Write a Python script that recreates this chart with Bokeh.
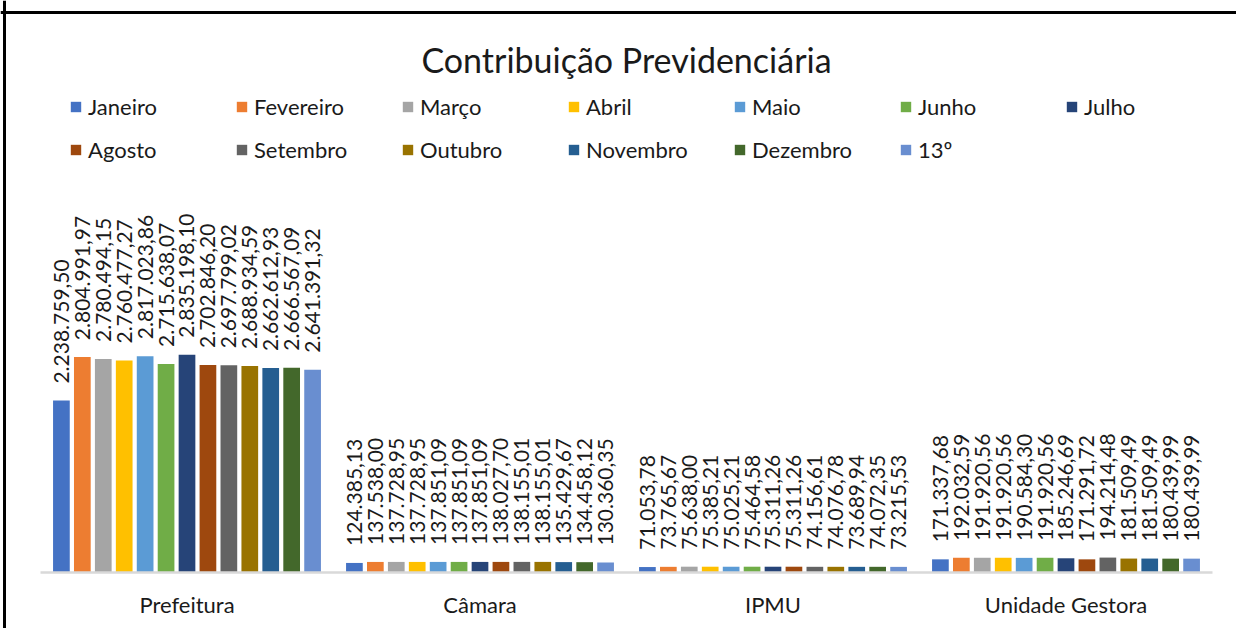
import numpy as np
from bokeh.plotting import figure
from bokeh.models import (ColumnDataSource, Range1d, LabelSet, Legend, LegendItem, Label, Span)
from bokeh.transform import dodge
from bokeh.core.properties import value
from bokeh.embed import file_html
from bokeh.resources import INLINE

categories = ["Prefeitura", "Câmara", "IPMU", "Unidade Gestora"]
months = ["Janeiro", "Fevereiro", "Março", "Abril", "Maio", "Junho", "Julho",
          "Agosto", "Setembro", "Outubro", "Novembro", "Dezembro", "13º"]
colors = ["#4472C4", "#ED7D31", "#A5A5A5", "#FFC000", "#5B9BD5", "#70AD47", "#264478",
          "#9E480E", "#636363", "#997300", "#255E91", "#43682B", "#698ED0"]

prefeitura = [2238759.50, 2804991.97, 2780494.15, 2760477.27, 2817023.86, 2715638.07, 2835198.10,
              2702846.20, 2697799.02, 2688934.59, 2662612.93, 2666567.09, 2641391.32]
camara = [124385.13, 137538.00, 137728.95, 137728.95, 137851.09, 137851.09, 137851.09,
          138027.70, 138155.01, 138155.01, 135429.67, 134458.12, 130360.35]
ipmu = [71053.78, 73765.67, 75638.00, 75385.21, 75025.21, 75464.58, 75311.26,
        75311.26, 74156.61, 74076.78, 73689.94, 74072.35, 73215.53]
unidade_gestora = [171337.68, 192032.59, 191920.56, 191920.56, 190584.30, 191920.56, 185246.69,
                   171291.72, 194214.48, 181509.49, 181509.49, 180439.99, 180439.99]


def fmt(v):
    s = f"{v:,.2f}"
    return s.replace(",", "X").replace(".", ",").replace("X", ".")


data = {"cat": categories, "x": [i + 0.5 for i in range(len(categories))],
        "zero": [0.0] * len(categories)}
for i, m in enumerate(months):
    vals = [prefeitura[i], camara[i], ipmu[i], unidade_gestora[i]]
    data[f"v{i}"] = vals
    data[f"t{i}"] = [fmt(v) for v in vals]
src = ColumnDataSource(data)

FONT = "Lato"
TXT = "#1a1a1a"
W, H = 1236, 628
CAT_PX = 293.0      # pixel width of one category
LEFT_PX = 40.0      # plot area left edge
BASE_PX = 56.0      # baseline distance from bottom edge
SCALE = 217.7 / 2835198.10  # px per unit

x_range = Range1d(-LEFT_PX / CAT_PX, (W - LEFT_PX) / CAT_PX)
y_range = Range1d(-BASE_PX / SCALE, (H - BASE_PX) / SCALE)

p = figure(x_range=x_range, y_range=y_range, width=W, height=H,
           output_backend="svg", toolbar_location=None, title=None,
           min_border_left=0, min_border_right=0, min_border_top=0, min_border_bottom=0)
p.outline_line_color = None
p.background_fill_color = "white"
p.border_fill_color = "white"
p.xgrid.grid_line_color = None
p.ygrid.grid_line_color = None
p.xaxis.visible = False
p.yaxis.visible = False

slot = 0.07144
bw = 0.057
bars = []
for i, m in enumerate(months):
    off = (i - 6) * slot
    r = p.vbar(x=dodge("x", off), top=f"v{i}", width=bw,
               source=src, fill_color=colors[i], line_color=None)
    bars.append(r)
    ls = LabelSet(x=dodge("x", off), y=f"v{i}", text=f"t{i}",
                  source=src, angle=np.pi / 2, text_align="left", text_baseline="middle",
                  y_offset=17, text_font=value(FONT), text_font_size=value("21px"),
                  text_color=value(TXT))
    p.add_layout(ls)

# category axis line and labels
p.segment(x0=[0], y0=[0], x1=[len(categories)], y1=[0], line_color="#d9d9d9", line_width=2.6)
cat_labels = LabelSet(x="x", y="zero", text="cat", source=src, y_offset=-32,
                      text_align="center", text_baseline="middle",
                      text_font=value(FONT), text_font_size=value("22px"),
                      text_color=value(TXT))
p.add_layout(cat_labels)


def make_legend(idx, loc):
    lg = Legend(items=[LegendItem(label=months[i], renderers=[bars[i]]) for i in idx],
                location=loc, orientation="horizontal", padding=0, margin=0, spacing=0,
                glyph_width=13, glyph_height=13, label_standoff=6, label_width=147,
                label_height=13, label_text_font=FONT, label_text_font_size="22px",
                label_text_color=TXT, border_line_color=None, background_fill_alpha=0)
    p.add_layout(lg, "center")


make_legend(range(0, 7), (69, 508))
make_legend(range(7, 13), (69, 465))

title = Label(x=626, y=H - 59, x_units="screen", y_units="screen",
              text="Contribuição Previdenciária", text_align="center", text_baseline="middle",
              text_font=FONT, text_font_size="34px", text_color=TXT)
p.add_layout(title)

# chart border (top and left edges visible in the window)
p.add_layout(Span(location=4, location_units="screen", dimension="height",
                  line_color="black", line_width=3))
p.add_layout(Span(location=H - 12, location_units="screen", dimension="width",
                  line_color="black", line_width=3))

open("out.html", "w").write(file_html(p, INLINE))
